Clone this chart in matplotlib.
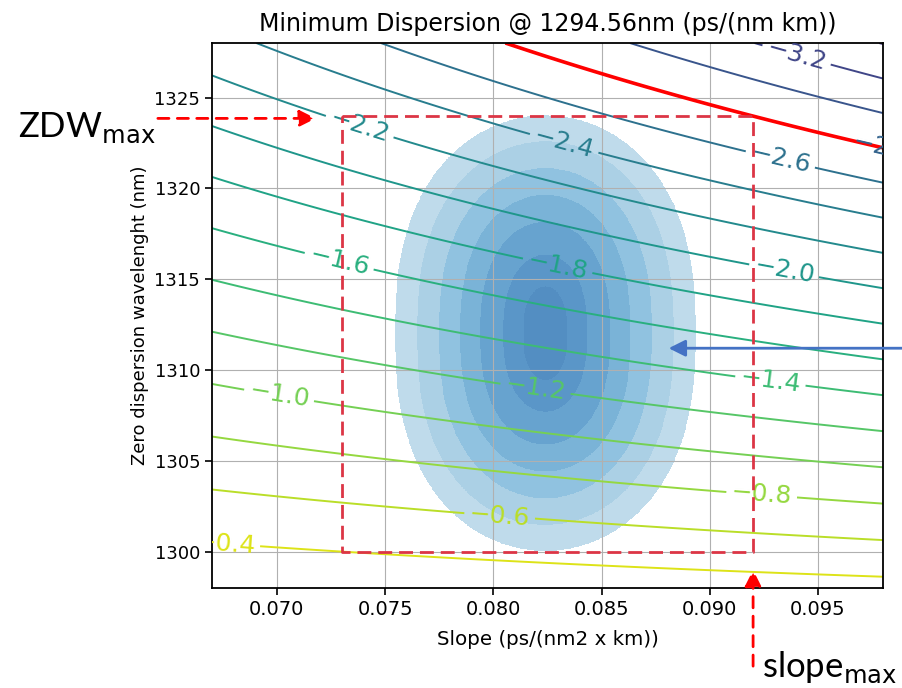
import numpy as np
import matplotlib.pyplot as plt
from matplotlib.colors import ListedColormap, BoundaryNorm

# operating wavelength (nm)
WL = 1294.56

# grid of fibre parameters
slope_range = (0.067, 0.098)      # ps/(nm2 km)
zdw_range = (1298.0, 1328.0)      # nm

# spec box
slope_max = 0.092
slope_min = 0.073
zdw_max = 1324.0
zdw_min = 1300.0

# spread of the produced fibres
fib_slope_mean, fib_slope_std = 0.0824, 0.00387
fib_zdw_mean, fib_zdw_std = 1312.0, 7.5

# contour levels (ps/(nm km))
label_levels = [-3.2, -2.8, -2.6, -2.4, -2.2, -2.0, -1.8, -1.6, -1.4, -1.2, -1.0, -0.8, -0.6, -0.4]
plain_levels = [-3.4, -3.0]
label_pos = [(0.0940, 1327.3), (0.0985, 1322.2), (0.0933, 1321.8), (0.0833, 1322.6),
             (0.0738, 1323.3), (0.0935, 1315.9), (0.0830, 1315.9), (0.0729, 1316.1),
             (0.0928, 1309.4), (0.0820, 1309.4), (0.0701, 1308.6), (0.0924, 1303.2),
             (0.0803, 1302.1), (0.0676, 1300.6)]
limit_level = -2.8
density_levels = [0.2, 0.31, 0.447, 0.596, 0.74, 0.882, 0.966, 1.0]

S = np.linspace(*slope_range, 400)
Z = np.linspace(*zdw_range, 400)
SS, ZZ = np.meshgrid(S, Z)
D = SS / 4 * (WL - ZZ**4 / WL**3)

# finer grid for the density bands
Sf, Zf = np.meshgrid(np.linspace(*slope_range, 1400), np.linspace(*zdw_range, 1400))
dens = np.exp(-0.5 * (((Sf - fib_slope_mean) / fib_slope_std) ** 2
                      + np.abs((Zf - fib_zdw_mean) / fib_zdw_std) ** 2.5))

# one Blues shade per density band
mids = 0.5 * (np.array(density_levels[:-1]) + np.array(density_levels[1:]))
band_cmap = ListedColormap(plt.get_cmap('Blues')((mids + 0.3) / 1.65))
band_norm = BoundaryNorm(density_levels, band_cmap.N)

fig = plt.figure(figsize=(9.02, 6.88), dpi=100)
ax = fig.add_axes([0.235, 0.1453, 0.7439, 0.7922])

ax.imshow(np.ma.masked_less(dens, density_levels[0]), origin='lower', aspect='auto',
          extent=(*slope_range, *zdw_range), cmap=band_cmap, norm=band_norm,
          alpha=0.75, interpolation='nearest')
line_kw = dict(cmap='viridis', vmin=-4.0, vmax=-0.2, linewidths=1.4, linestyles='solid')
ax.contour(SS, ZZ, D, levels=plain_levels, **line_kw)
cs = ax.contour(SS, ZZ, D, levels=label_levels, **line_kw)
labels = ax.clabel(cs, manual=label_pos, fontsize=18, inline=True,
                   fmt=lambda v: f'{v:.1f}'.replace('-', '\u2212'))
for t in labels:
    t.set_clip_on(True)
ax.contour(SS, ZZ, D, levels=[limit_level], colors='red', linewidths=2.6, linestyles='solid')

ax.plot([slope_min, slope_max, slope_max, slope_min, slope_min],
        [zdw_max, zdw_max, zdw_min, zdw_min, zdw_max],
        color='#dc3545', lw=2, dashes=(5, 2.5), zorder=5)

ax.set_xlim(*slope_range)
ax.set_ylim(*zdw_range)
ax.set_xticks([0.070, 0.075, 0.080, 0.085, 0.090, 0.095])
ax.set_yticks([1300, 1305, 1310, 1315, 1320, 1325])
ax.tick_params(labelsize=14, length=5, width=1.2)
ax.tick_params(axis='y', labelsize=13)
ax.grid(True)
for sp in ax.spines.values():
    sp.set_linewidth(1.3)

ax.set_title('Minimum Dispersion @ 1294.56nm (ps/(nm km))', fontsize=17, pad=9)
ax.set_xlabel('Slope (ps/(nm2 x km))', fontsize=14.3, labelpad=8)
ax.set_ylabel('Zero dispersion wavelenght (nm)', fontsize=13)

# annotations around the axes
red_arrow = dict(arrowstyle='-|>', color='red', lw=2, ls=(0, (4, 3)), mutation_scale=25,
                 shrinkA=0, shrinkB=0)
ax.annotate('', xy=(0.0718, 1323.85), xytext=(0.0645, 1323.85),
            arrowprops=red_arrow, annotation_clip=False)
ax.annotate('', xy=(slope_max, 1299.0), xytext=(slope_max, 1293.7),
            arrowprops=red_arrow, annotation_clip=False)
ax.annotate('', xy=(0.0881, 1311.2), xytext=(0.0990, 1311.2),
            arrowprops=dict(arrowstyle='-|>', color='#4472c4', lw=2, mutation_scale=25,
                            shrinkA=0, shrinkB=0),
            annotation_clip=False)

fig.text(18, 688 - 137, r'ZDW$_{\mathrm{max}}$', transform=None, fontsize=25,
         family='Lato', va='baseline')
fig.text(762, 688 - 677, r'slope$_{\mathrm{max}}$', transform=None, fontsize=25,
         family='Lato', va='baseline')

fig.savefig('out.png', dpi=100)
